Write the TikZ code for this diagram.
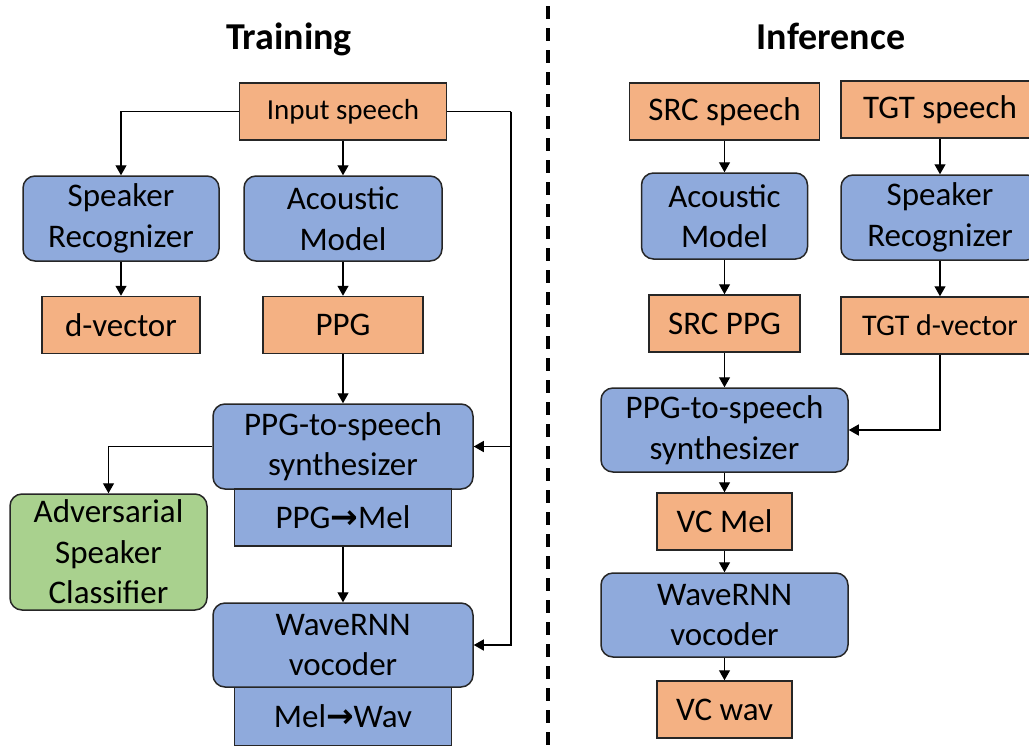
\documentclass[tikz,border=0pt]{standalone}
\usepackage{fontspec}
\setmainfont{Carlito}
\newfontfamily\arrowfont{DejaVu Sans}
\usetikzlibrary{arrows.meta,positioning}

\definecolor{boxorange}{HTML}{F4B183}
\definecolor{boxblue}{HTML}{8FAADC}
\definecolor{boxgreen}{HTML}{A9D18E}

\newcommand{\tto}{{\arrowfont\bfseries →}}

\begin{document}
\begin{tikzpicture} [x=1pt, y=-1pt,
                every node/.style = {font=\fontsize{33}{40.5}\selectfont, align=center, inner sep=0pt},
                orangebox/.style = {draw=black!85, line width=1.5pt, fill=boxorange, minimum height=57pt},
                bluebox/.style = {draw=black!85, line width=1.5pt, fill=boxblue, rounded corners=12pt, minimum height=85pt},
                bluerect/.style = {draw=black!85, line width=1.5pt, fill=boxblue, minimum height=57pt},
                greenbox/.style = {draw=black!85, line width=1.5pt, fill=boxgreen, rounded corners=12pt},
                arr/.style = {line width=1.3pt, -{Triangle[length=10pt,width=11pt]}},
                title/.style = {font=\fontsize{38}{44}\selectfont\bfseries}
            ]
            \useasboundingbox (0,0) rectangle (1029,748);
            \node[title, anchor=base] (ttrain) at (289,49) {Training};
            \node[title, anchor=base] (tinfer) at (831,49) {Inference};
            \draw [line width=3.3pt, dash pattern=on 13pt off 9pt] (548,6) -- (548,748);
            % training side
            \node[orangebox, minimum width=207pt, font=\fontsize{29}{34}\selectfont] (in) at (343,111.5) {Input speech};
            \node[bluebox, minimum width=196pt] (spkrec) at (121,218.5) {Speaker\\Recognizer};
            \node[bluebox, minimum width=198pt] (acmod) at (343,218.5) {Acoustic\\Model};
            \node[orangebox, minimum width=158pt] (dvec) at (121,325) {d-vector};
            \node[orangebox, minimum width=160pt] (ppg) at (343,325) {PPG};
            \node[bluebox, minimum width=260pt] (synth) at (343,446.5) {PPG-to-speech\\synthesizer};
            \node[bluerect, minimum width=217pt] (p2m) at (343,517.5) {PPG\tto Mel};
            \node[greenbox, minimum width=197pt, minimum height=116pt] (adv) at (108.5,552) {Adversarial\\Speaker\\Classifier};
            \node[bluebox, minimum width=260pt, minimum height=84pt] (voc) at (343,645) {WaveRNN\\vocoder};
            \node[bluerect, minimum width=217pt, minimum height=58pt] (m2w) at (343,716.5) {Mel\tto Wav};
            \coordinate (rside) at (511,111.5);
            \draw [arr] (in.west) -| (spkrec.north);
            \draw [arr] (in) -- (acmod);
            \draw [arr] (spkrec) -- (dvec);
            \draw [arr] (acmod) -- (ppg);
            \draw [arr] (ppg) -- (synth);
            \draw [arr] (synth.west) -| (adv.north);
            \draw [arr] (p2m) -- (voc);
            \draw [line width=1.3pt] (in.east) -- (rside);
            \draw [arr] (rside) |- (synth.east);
            \draw [arr] (rside) |- (voc.east);
            % inference side
            \node[orangebox, minimum width=190pt] (src) at (724.5,111.5) {SRC speech};
            \node[orangebox, minimum width=198pt] (tgt) at (940,109.5) {TGT speech};
            \node[bluebox, minimum width=166pt, minimum height=86pt] (acmod2) at (724.5,216) {Acoustic\\Model};
            \node[bluebox, minimum width=198pt] (spkrec2) at (940,217.5) {Speaker\\Recognizer};
            \node[orangebox, minimum width=151pt] (srcppg) at (724.5,323.5) {SRC PPG};
            \node[orangebox, minimum width=198pt, font=\fontsize{30}{36}\selectfont] (tgtdvec) at (940,325.5) {TGT d-vector};
            \node[bluebox, minimum width=247pt, minimum height=84pt] (synth2) at (724.5,430) {PPG-to-speech\\synthesizer};
            \node[orangebox, minimum width=135pt] (vcmel) at (724.5,521.5) {VC Mel};
            \node[bluebox, minimum width=247pt, minimum height=84pt] (voc2) at (724.5,615) {WaveRNN\\vocoder};
            \node[orangebox, minimum width=135pt] (vcwav) at (724.5,709.5) {VC wav};
            \draw [arr] (src) -- (acmod2);
            \draw [arr] (acmod2) -- (srcppg);
            \draw [arr] (srcppg) -- (synth2);
            \draw [arr] (synth2) -- (vcmel);
            \draw [arr] (vcmel) -- (voc2);
            \draw [arr] (voc2) -- (vcwav);
            \draw [arr] (tgt) -- (spkrec2);
            \draw [arr] (spkrec2) -- (tgtdvec);
            \draw [arr] (tgtdvec.south) |- (synth2.east);
        \end{tikzpicture}
\end{document}
